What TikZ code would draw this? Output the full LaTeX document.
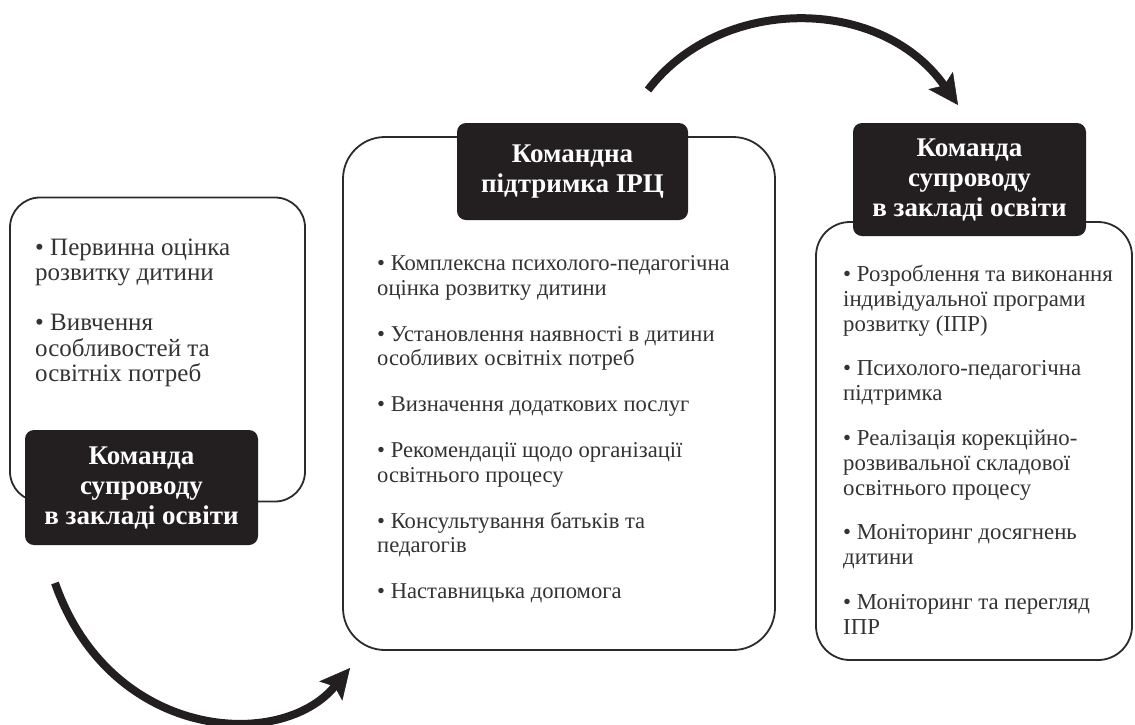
\documentclass[tikz,border=0pt]{standalone}
\usepackage{fontspec}
\setmainfont{Liberation Serif}
\usetikzlibrary{arrows.meta}
\definecolor{darkbox}{HTML}{231F20}
\definecolor{txt}{HTML}{333333}
\definecolor{edge}{HTML}{2B2B2B}
\begin{document}
\begin{tikzpicture}[x=1pt,y=-1pt,
  panel/.style={draw=edge, line width=1.8pt, fill=white, rounded corners=#1, inner sep=0pt},
  titlebox/.style={fill=darkbox, rounded corners=9pt, text=white, align=center, inner sep=0pt,
    font=\bfseries\fontsize{27}{30}\selectfont},
  body/.style={anchor=north west, inner sep=0pt, align=left, text=txt,
    font=\fontsize{22.6}{24.5}\selectfont},
  flow/.style={line width=8pt, draw=darkbox,
    -{Stealth[length=30pt,width=30pt,inset=6pt,line width=0.5pt]}}]
\useasboundingbox (0,0) rectangle (1135,724);
\fill[white] (0,0) rectangle (1135,724);

% white panels
\node[panel=30pt, minimum width=295pt, minimum height=304pt] (L) at (157.5,349.5) {};
\node[panel=42pt, minimum width=432pt, minimum height=513pt] (C) at (559,393.5) {};
\node[panel=34pt, minimum width=316pt, minimum height=438pt] (R) at (974,441) {};

% texts
\node[body, font=\fontsize{25}{25.5}\selectfont] (Lt) at (35,238.5)
  {• Первинна оцінка\\ розвитку дитини\\[24.5pt]
   • Вивчення\\ особливостей та\\ освітніх потреб};
\node[body] (Ct) at (377,255.5)
  {• Комплексна психолого-педагогічна\\ оцінка розвитку дитини\\[21.5pt]
   • Установлення наявності в дитини\\ особливих освітніх потреб\\[21.5pt]
   • Визначення додаткових послуг\\[21.5pt]
   • Рекомендації щодо організації\\ освітнього процесу\\[21.5pt]
   • Консультування батьків та\\ педагогів\\[21.5pt]
   • Наставницька допомога};
\node[body, font=\fontsize{22.8}{25}\selectfont] (Rt) at (843,264.5)
  {• Розроблення та виконання\\ індивідуальної програми\\ розвитку (ІПР)\\[19.5pt]
   • Психолого-педагогічна\\ підтримка\\[19.5pt]
   • Реалізація корекційно-\\ розвивальної складової\\ освітнього процесу\\[19.5pt]
   • Моніторинг досягнень\\ дитини\\[19.5pt]
   • Моніторинг та перегляд\\ ІПР};

% dark title boxes
\node[titlebox, minimum width=233pt, minimum height=115pt] (Ld) at (141.5,487.5)
  {Команда\\ супроводу\\ в закладі освіти};
\node[titlebox, minimum width=231pt, minimum height=97pt] (Cd) at (572.5,171.5)
  {Командна\\ підтримка ІРЦ};
\node[titlebox, minimum width=233pt, minimum height=113pt] (Rd) at (969.5,179.5)
  {Команда\\ супроводу\\ в закладі освіти};

% arrows
\coordinate (a1s) at (55,583);
\coordinate (a1e) at (350,668);
\coordinate (a2s) at (648,90);
\coordinate (a2e) at (958,105);
\draw[flow] (a1s) .. controls (110,740) and (280,752) .. (a1e);
\draw[flow] (a2s) .. controls (720,-5) and (880,-5) .. (a2e);
\end{tikzpicture}
\end{document}
